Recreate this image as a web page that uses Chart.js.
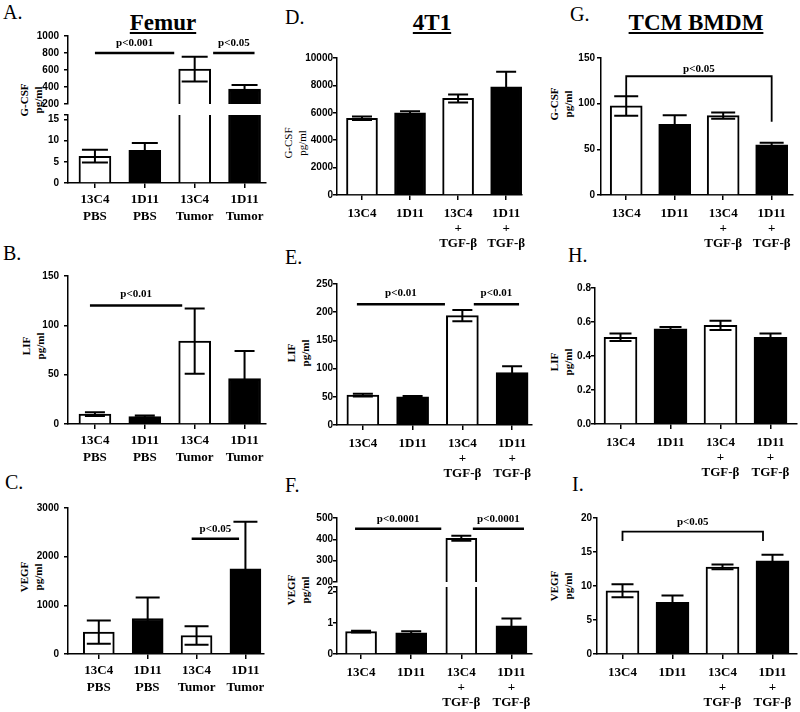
<!DOCTYPE html>
<html>
<head>
<meta charset="utf-8">
<script src="https://cdn.jsdelivr.net/npm/chart.js@4.4.0/dist/chart.umd.min.js"></script>
<style>
  body { margin: 0; background: #fff; }
  #fig { position: relative; width: 800px; height: 712px; overflow: hidden; font-family: 'Liberation Serif', 'Times New Roman', serif; color: #000; }
  #fig canvas { position: absolute; }
  .let { position: absolute; font-size: 20px; line-height: 20px; }
  .hdr { position: absolute; font-size: 23px; line-height: 23px; font-weight: bold; text-decoration: underline; transform: translateX(-50%); white-space: nowrap; }
  .ytl { position: absolute; font-size: 11px; line-height: 14px; font-weight: bold; text-align: center; white-space: pre; transform: translate(-50%, -50%) rotate(-90deg); }
</style>
</head>
<body>
<div id="fig">
  <div class="let" style="left:3px;top:2px">A.</div>
  <div class="let" style="left:285px;top:7px">D.</div>
  <div class="let" style="left:570px;top:4px">G.</div>
  <div class="let" style="left:3px;top:243px">B.</div>
  <div class="let" style="left:285px;top:247px">E.</div>
  <div class="let" style="left:568px;top:245px">H.</div>
  <div class="let" style="left:5px;top:472px">C.</div>
  <div class="let" style="left:285px;top:475px">F.</div>
  <div class="let" style="left:572px;top:474px">I.</div>

  <div class="hdr" style="left:163px;top:11px">Femur</div>
  <div class="hdr" style="left:432px;top:11px">4T1</div>
  <div class="hdr" style="left:696px;top:11px">TCM BMDM</div>

  <div class="ytl" style="left:31px;top:100px">G-CSF
pg/ml</div>
  <div class="ytl" style="left:33px;top:346px">LIF
pg/ml</div>
  <div class="ytl" style="left:31px;top:577px">VEGF
pg/ml</div>
  <div class="ytl" style="left:295px;top:143px;font-weight:normal">G-CSF
pg/ml</div>
  <div class="ytl" style="left:298px;top:353px">LIF
pg/ml</div>
  <div class="ytl" style="left:298px;top:590px">VEGF
pg/ml</div>
  <div class="ytl" style="left:561px;top:104px">G-CSF
pg/ml</div>
  <div class="ytl" style="left:561px;top:362px">LIF
pg/ml</div>
  <div class="ytl" style="left:561px;top:586px">VEGF
pg/ml</div>
</div>

<script>
// groups on the x axis
const femurGroups = [['13C4', 'PBS'], ['1D11', 'PBS'], ['13C4', 'Tumor'], ['1D11', 'Tumor']];
const tgfGroups = [['13C4'], ['1D11'], ['13C4', '+', 'TGF-β'], ['1D11', '+', 'TGF-β']];

// A-C  Femur
const femurGcsf = [6.3, 7.7, 610, 375];
const femurGcsfSem = [1.5, 1.7, 145, 50];
const femurLif = [10, 7.5, 84, 46];
const femurLifSem = [2, 1.2, 33, 28];
const femurVegf = [450, 730, 380, 1750];
const femurVegfSem = [240, 430, 190, 970];

// D-F  4T1
const t41Gcsf = [5600, 6000, 7050, 7900];
const t41GcsfSem = [130, 110, 290, 1100];
const t41Lif = [53, 50, 194, 93];
const t41LifSem = [2.5, 1.5, 10, 11];
const t41Vegf = [0.72, 0.68, 405, 0.9];
const t41VegfSem = [0.03, 0.05, 12, 0.24];

// G-I  TCM BMDM
const bmdmGcsf = [97.5, 77.4, 86.9, 54.8];
const bmdmGcsfSem = [10.6, 10, 3.5, 2.5];
const bmdmLif = [0.51, 0.56, 0.58, 0.51];
const bmdmLifSem = [0.022, 0.01, 0.027, 0.022];
const bmdmVegf = [9.3, 7.6, 12.8, 13.7];
const bmdmVegfSem = [0.95, 1.0, 0.35, 0.9];

// y tick labels
const ticksFemurGcsfHi = [200, 400, 600, 800, 1000];
const ticksFemurGcsfLo = [0, 5, 10, 15];
const ticksFemurLif = [0, 50, 100, 150];
const ticksFemurVegf = [0, 1000, 2000, 3000];
const ticks41Gcsf = [0, 2000, 4000, 6000, 8000, 10000];
const ticks41Lif = [0, 50, 100, 150, 200, 250];
const ticks41VegfHi = [200, 300, 400, 500];
const ticks41VegfLo = [0, 1, 2];
const ticksBmdmGcsf = [0, 50, 100, 150];
const ticksBmdmLif = [0, 0.2, 0.4, 0.6, 0.8];
const ticksBmdmVegf = [0, 5, 10, 15, 20];

const SERIF = "'Liberation Serif', 'Times New Roman', serif";
const SANS = "'Liberation Sans', Arial, sans-serif";
const fills = ['#ffffff', '#000000', '#ffffff', '#000000'];

function overlay(errs, cap, brackets) {
    return {
        id: 'overlay',
        afterDatasetsDraw(chart) {
            const {ctx, chartArea: a, scales: {x, y}} = chart;
            const meta = chart.getDatasetMeta(0);
            const ds = chart.data.datasets[0];
            ctx.save();
            ctx.beginPath();
            ctx.rect(a.left, a.top - 2, a.right - a.left, a.bottom - a.top + 2);
            ctx.clip();
            ctx.strokeStyle = '#000';
            ctx.lineWidth = 2;
            meta.data.forEach((bar, i) => {
                const m = ds.data[i].y, e = errs[i];
                const hi = y.getPixelForValue(m + e), lo = y.getPixelForValue(m - e);
                ctx.beginPath();
                ctx.moveTo(bar.x, hi); ctx.lineTo(bar.x, lo);
                ctx.moveTo(bar.x - cap / 2, hi); ctx.lineTo(bar.x + cap / 2, hi);
                ctx.moveTo(bar.x - cap / 2, lo); ctx.lineTo(bar.x + cap / 2, lo);
                ctx.stroke();
            });
            ctx.restore();

            ctx.save();
            brackets.forEach(b => {
                const x1 = x.getPixelForValue(b.from), x2 = x.getPixelForValue(b.to);
                const yy = y.getPixelForValue(b.y);
                ctx.strokeStyle = '#000';
                ctx.lineWidth = b.lw || 2.5;
                ctx.beginPath();
                if (b.dropA !== undefined) {
                    ctx.moveTo(x1, y.getPixelForValue(b.dropA));
                    ctx.lineTo(x1, yy);
                    ctx.lineTo(x2, yy);
                    ctx.lineTo(x2, y.getPixelForValue(b.dropB));
                } else {
                    ctx.moveTo(x1, yy);
                    ctx.lineTo(x2, yy);
                }
                ctx.stroke();
                ctx.fillStyle = '#000';
                ctx.font = 'bold 11px ' + SERIF;
                ctx.textAlign = 'center';
                ctx.textBaseline = 'bottom';
                ctx.fillText(b.text, (x1 + x2) / 2, yy - (b.gap || 4));
            });
            ctx.restore();
        }
    };
}

function chartConfig(p, seg, showX, pad) {
    // lower part of a broken axis gets an extra unlabeled tick at its top
    const tickVals = seg.breakTop ? seg.ticks.concat([seg.max]) : seg.ticks;
    return {
        type: 'bar',
        data: {
            datasets: [{
                data: p.means.map((v, i) => ({x: i, y: v})),
                backgroundColor: fills,
                borderColor: '#000',
                borderWidth: 2,
                barThickness: p.barW,
                clip: 0
            }]
        },
        options: {
            responsive: false,
            maintainAspectRatio: false,
            animation: false,
            devicePixelRatio: 1,
            layout: {padding: pad},
            plugins: {legend: {display: false}, tooltip: {enabled: false}},
            scales: {
                x: {
                    type: 'linear',
                    display: showX,
                    offset: false,
                    bounds: 'data',
                    min: p.xMin, max: p.xMax,
                    afterBuildTicks: s => { s.ticks = p.groups.map((g, i) => ({value: i})); },
                    ticks: {
                        callback: v => p.groups[v],
                        autoSkip: false, maxRotation: 0, minRotation: 0,
                        color: '#000',
                        padding: p.xPad,
                        font: {family: SERIF, weight: 'bold', size: 13, lineHeight: p.xLine / 13}
                    },
                    grid: {offset: false, drawOnChartArea: false, color: '#000', lineWidth: 1.5, tickLength: 5},
                    border: {color: '#000', width: 1.5}
                },
                y: {
                    min: seg.min, max: seg.max,
                    afterBuildTicks: s => { s.ticks = tickVals.map(v => ({value: v})); },
                    afterFit: s => { s.width = 40; },
                    ticks: {
                        callback: v => seg.ticks.includes(v) ? (seg.dec ? v.toFixed(seg.dec) : String(v)) : '',
                        color: '#000',
                        padding: p.yPad,
                        font: {family: SANS, weight: 'bold', size: 10}
                    },
                    grid: {drawOnChartArea: false, color: '#000', lineWidth: 1.5, tickLength: 4},
                    border: {color: '#000', width: 1.5}
                }
            }
        },
        plugins: [overlay(p.sems, p.cap, seg.brackets || [])]
    };
}

// one chart = one y segment of a panel; the canvas is sized so the plot area lands on the target box
function segment(p, seg, showX) {
    const pad = {left: 0, top: 10, right: 30, bottom: showX ? 0 : 10};
    const cv = document.createElement('canvas');
    document.getElementById('fig').appendChild(cv);
    let w = (p.right - p.left) + 40 + pad.right;
    let h = (seg.bottom - seg.top) + pad.top + pad.bottom + (showX ? 60 : 0);
    const make = () => {
        cv.width = w; cv.height = h;
        cv.style.width = w + 'px'; cv.style.height = h + 'px';
        return new Chart(cv, chartConfig(p, seg, showX, pad));
    };
    let chart = make();
    for (let k = 0; k < 4; k++) {
        const a = chart.chartArea;
        const dw = (p.right - p.left) - (a.right - a.left);
        const dh = (seg.bottom - seg.top) - (a.bottom - a.top);
        if (Math.abs(dw) < 0.5 && Math.abs(dh) < 0.5) break;
        chart.destroy();
        w = Math.round(w + dw); h = Math.round(h + dh);
        chart = make();
    }
    cv.style.left = (p.left - chart.chartArea.left) + 'px';
    cv.style.top = (seg.top - chart.chartArea.top) + 'px';
}

function panel(p) {
    p.segs.forEach((seg, i) => segment(p, seg, i === p.segs.length - 1));
}

const leftCol = {groups: femurGroups, xLine: 17, xPad: 3, yPad: 5};
const tgfCol = {groups: tgfGroups, xLine: 15, xPad: 6, yPad: 0};

// A
panel(Object.assign({}, leftCol, {
    means: femurGcsf, sems: femurGcsfSem, left: 68, right: 266, xMin: -0.54, xMax: 3.43, barW: 32, cap: 26,
    segs: [
        {top: 36, bottom: 104, min: 200, max: 1000, ticks: ticksFemurGcsfHi,
         brackets: [{from: 0, to: 1.59, y: 800, text: 'p<0.001'}, {from: 2.37, to: 3.2, y: 800, text: 'p<0.05'}]},
        {top: 115, bottom: 183, min: 0, max: 16, ticks: ticksFemurGcsfLo, breakTop: true}
    ]
}));
// B
panel(Object.assign({}, leftCol, {
    means: femurLif, sems: femurLifSem, left: 68, right: 266, xMin: -0.54, xMax: 3.43, barW: 32, cap: 20,
    segs: [{top: 276, bottom: 424, min: 0, max: 150, ticks: ticksFemurLif,
            brackets: [{from: -0.1, to: 1.75, y: 120, text: 'p<0.01', gap: 6}]}]
}));
// C
panel(Object.assign({}, leftCol, {
    means: femurVegf, sems: femurVegfSem, left: 68, right: 264, xMin: -0.63, xMax: 3.38, barW: 31, cap: 24,
    segs: [{top: 508, bottom: 654, min: 0, max: 3000, ticks: ticksFemurVegf,
            brackets: [{from: 1.9, to: 2.87, y: 2370, text: 'p<0.05'}]}]
}));
// D
panel(Object.assign({}, tgfCol, {
    means: t41Gcsf, sems: t41GcsfSem, left: 337, right: 522, xMin: -0.52, xMax: 3.33, barW: 31, cap: 20,
    segs: [{top: 58, bottom: 195, min: 0, max: 10000, ticks: ticks41Gcsf}]
}));
// E
panel(Object.assign({}, tgfCol, {
    means: t41Lif, sems: t41LifSem, left: 337, right: 532, xMin: -0.52, xMax: 3.4, barW: 32, cap: 20,
    segs: [{top: 284, bottom: 425, min: 0, max: 250, ticks: ticks41Lif,
            brackets: [{from: -0.12, to: 1.65, y: 214, text: 'p<0.01', gap: 6}, {from: 2.23, to: 3.14, y: 214, text: 'p<0.01', gap: 6}]}]
}));
// F
panel(Object.assign({}, tgfCol, {
    means: t41Vegf, sems: t41VegfSem, left: 337, right: 532, xMin: -0.48, xMax: 3.41, barW: 31, cap: 20,
    segs: [
        {top: 518, bottom: 582, min: 200, max: 500, ticks: ticks41VegfHi,
         brackets: [{from: -0.12, to: 1.6, y: 450, text: 'p<0.0001'}, {from: 2.23, to: 3.25, y: 450, text: 'p<0.0001'}]},
        {top: 587, bottom: 654, min: 0, max: 2.15, ticks: ticks41VegfLo, breakTop: true}
    ]
}));
// G
panel(Object.assign({}, tgfCol, {
    means: bmdmGcsf, sems: bmdmGcsfSem, left: 601, right: 793, xMin: -0.52, xMax: 3.44, barW: 32, cap: 24, yPad: 2,
    segs: [{top: 58, bottom: 195, min: 0, max: 150, ticks: ticksBmdmGcsf,
            brackets: [{from: 0, to: 3, y: 130, dropA: 107.6, dropB: 80.3, text: 'p<0.05', lw: 1.8, gap: 2}]}]
}));
// H
panel(Object.assign({}, tgfCol, {
    means: bmdmLif, sems: bmdmLifSem, left: 595, right: 797, xMin: -0.51, xMax: 3.53, barW: 33, cap: 22,
    segs: [{top: 288, bottom: 424, min: 0, max: 0.8, ticks: ticksBmdmLif, dec: 1}]
}));
// I
panel(Object.assign({}, tgfCol, {
    means: bmdmVegf, sems: bmdmVegfSem, left: 597, right: 797, xMin: -0.51, xMax: 3.49, barW: 33, cap: 22, yPad: 1,
    segs: [{top: 518, bottom: 654, min: 0, max: 20, ticks: ticksBmdmVegf,
            brackets: [{from: 0, to: 2.81, y: 18, dropA: 16.6, dropB: 16.6, text: 'p<0.05', lw: 1.8}]}]
}));
</script>
</body>
</html>
